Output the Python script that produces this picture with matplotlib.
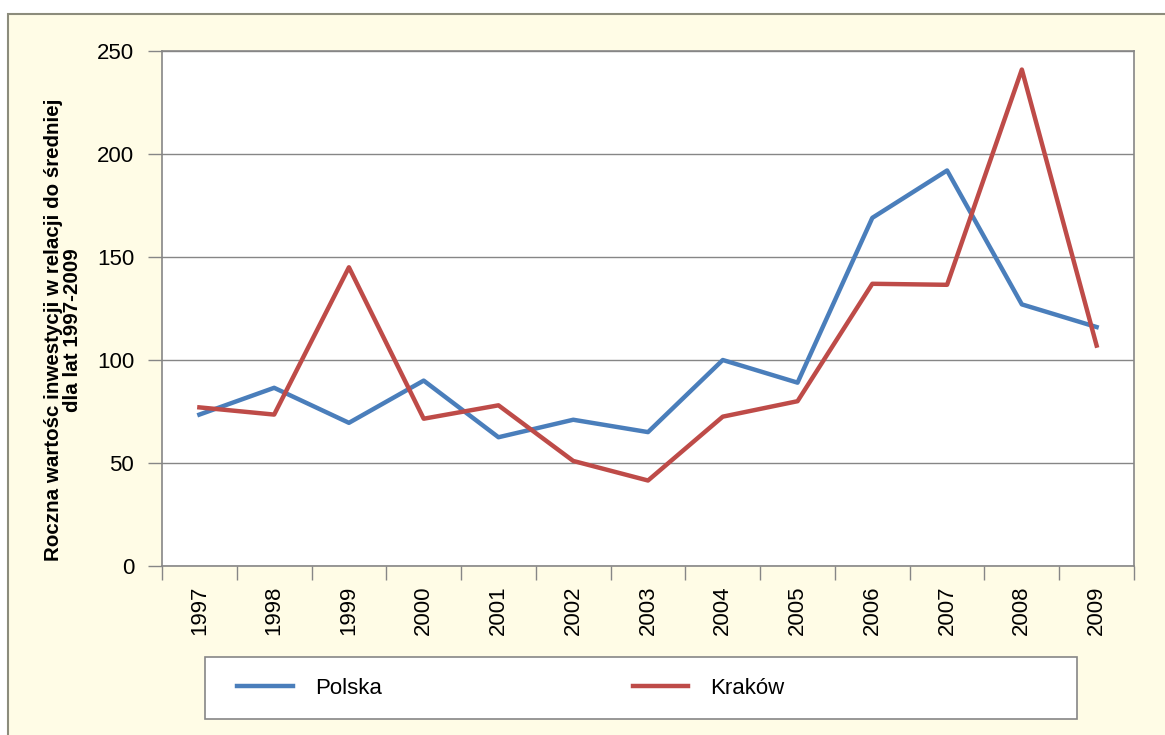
import matplotlib
matplotlib.use("Agg")
import matplotlib.pyplot as plt
from matplotlib.patches import Rectangle
import numpy as np

lata = ["1997", "1998", "1999", "2000", "2001", "2002", "2003",
        "2004", "2005", "2006", "2007", "2008", "2009"]
polska = [73.5, 86.5, 69.5, 90, 62.5, 71, 65, 100, 89, 169, 192, 127, 116]
krakow = [77, 73.5, 145, 71.5, 78, 51, 41.5, 72.5, 80, 137, 136.5, 241, 107]
y_ticks = [0, 50, 100, 150, 200, 250]
etykieta_y = "Roczna wartośc inwestycji w relacji do średniej\ndla lat 1997-2009"

tlo = "#FFFCE6"
niebieski = "#4A7EBB"
czerwony = "#BE4B48"
szary = "#868686"
narrow = ["Liberation Sans Narrow", "Liberation Sans"]

fig = plt.figure(figsize=(11.65, 7.35), dpi=100)
fig.patch.set_facecolor("white")
# ramka tla wykresu (obcieta z prawej i od dolu)
fig.patches.append(Rectangle((8 / 1165, -0.1), 1.2, (1 - 14 / 735) + 0.1,
                             transform=fig.transFigure, facecolor=tlo,
                             edgecolor="#8C8C7C", linewidth=1.5, zorder=-10))

ax = fig.add_axes([162 / 1165, 1 - 566 / 735, 972 / 1165, 515 / 735])
ax.set_zorder(2)
ax.set_facecolor("white")
x = np.arange(len(lata))
ax.plot(x, polska, color=niebieski, lw=3.2, label="Polska")
ax.plot(x, krakow, color=czerwony, lw=3.2, label="Kraków")

ax.set_xlim(-0.5, len(lata) - 0.5)
ax.set_ylim(0, 250)
ax.set_yticks(y_ticks)
ax.set_yticklabels([str(v) for v in y_ticks], family=narrow, fontsize=16)
ax.yaxis.grid(True, color=szary, lw=1)
ax.set_axisbelow(True)
ax.tick_params(axis="y", length=10, width=1, color=szary, pad=10)

ax.set_xticks(x)
ax.set_xticklabels(lata, rotation=90, family=narrow, fontsize=16)
ax.set_xticks(np.arange(len(lata) + 1) - 0.5, minor=True)
ax.tick_params(axis="x", which="major", length=0, pad=14)
ax.tick_params(axis="x", which="minor", length=10, width=1, color=szary)
for s in ax.spines.values():
    s.set_color(szary)
    s.set_linewidth(1.2)

ax.set_ylabel(etykieta_y, fontsize=14.8, fontweight="bold",
              family=["Liberation Sans", "DejaVu Sans"], linespacing=1.0)
ax.yaxis.set_label_coords(-0.082, 0.458)

# ramka legendy
fig.patches.append(Rectangle((205 / 1165, 1 - 719 / 735), 872 / 1165, 62 / 735,
                             transform=fig.transFigure, facecolor="white",
                             edgecolor=szary, linewidth=1.2, zorder=1))
leg = fig.legend(loc="center left", bbox_to_anchor=(217 / 1165, 1 - 688 / 735),
                 ncol=2, frameon=False, prop={"family": narrow, "size": 16},
                 handlelength=2.5, handletextpad=1.0, columnspacing=11.3)
for h in leg.get_lines():
    h.set_linewidth(3.2)

fig.savefig("out.png", dpi=100, facecolor=fig.get_facecolor())
